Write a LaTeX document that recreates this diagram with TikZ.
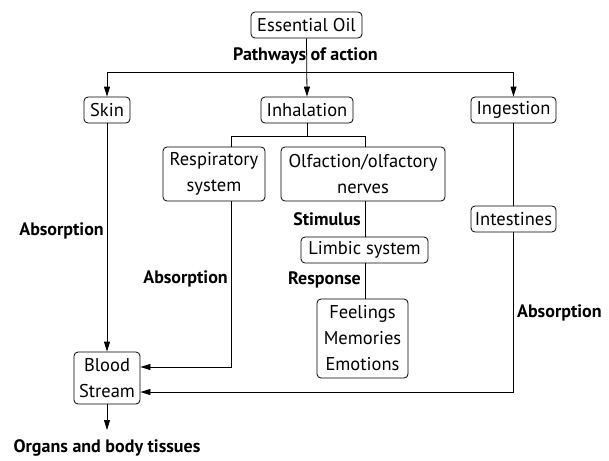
\documentclass[tikz,border=0pt]{standalone}
\usepackage{fontspec}
\setmainfont{PT Sans}
\usetikzlibrary{arrows.meta}
\tikzset{
  box/.style={draw, rounded corners=4pt, line width=0.8pt, inner sep=0pt, align=center, font=\fontsize{18.5}{26}\selectfont},
  lbl/.style={inner sep=0pt, font=\fontsize{18}{20}\selectfont\bfseries},
  ln/.style={line width=0.8pt},
  arr/.style={line width=0.8pt, -{Triangle[length=10pt,width=6pt]}}
}
\begin{document}
\begin{tikzpicture}[x=1pt,y=-1pt]
\useasboundingbox (0,0) rectangle (609,460);
\node[box, minimum width=111pt, minimum height=26pt] (oil) at (306.5,25) {Essential Oil};
\node[box, minimum width=46pt, minimum height=26pt] (skin) at (107,110) {Skin};
\node[box, minimum width=92pt, minimum height=26pt] (inh) at (307,110) {Inhalation};
\node[box, minimum width=85pt, minimum height=26pt] (ing) at (513.5,110) {Ingestion};
\node[box, minimum width=102pt, minimum height=54pt] (resp) at (214,174) {Respiratory\\system};
\node[box, minimum width=164pt, minimum height=54pt] (olf) at (363,174) {Olfaction/olfactory\\nerves};
\node[box, minimum width=127pt, minimum height=26pt] (limb) at (364.5,250) {Limbic system};
\node[box, minimum width=91pt, minimum height=79pt] (feel) at (362.5,338.5) {Feelings\\Memories\\Emotions};
\node[box, minimum width=85pt, minimum height=26pt] (int) at (513.5,219) {Intestines};
\node[box, minimum width=66pt, minimum height=52pt] (blood) at (107,378) {Blood\\Stream};

\node[lbl] (path) at (305.5,56) {Pathways of action};
\node[lbl, anchor=east] (stim) at (361,219) {Stimulus};
\node[lbl, anchor=east] (resplbl) at (361,280) {Response};
\node[lbl, anchor=east] (abs1) at (104,231) {Absorption};
\node[lbl, anchor=east] (abs2) at (228,279) {Absorption};
\node[lbl, anchor=west] (abs3) at (517,313) {Absorption};
\node[lbl] (org) at (107,448) {Organs and body tissues};
\coordinate (out) at (107,430);

% pathways
\draw[arr] (oil.south) -- (inh.north);
\draw[arr] (307,72) -| (skin.north);
\draw[arr] (307,72) -| (ing.north);
% inhalation branch
\draw[ln] (inh.south) -- (307,136);
\draw[ln] (231,147) |- (365,136) -- (365,147);
% olfaction chain
\draw[ln] (365,201) -- (365,237);
\draw[ln] (365,263) -- (365,299);
% skin to blood
\draw[arr] (skin.south) -- (blood.north);
% respiratory to blood
\draw[arr] (231,201) |- (blood.east |- 0,367);
% ingestion
\draw[ln] (ing.south) -- (int.north);
\draw[arr] (int.south) |- (blood.east |- 0,392);
% output
\draw[arr] (blood.south) -- (out);
\end{tikzpicture}
\end{document}
